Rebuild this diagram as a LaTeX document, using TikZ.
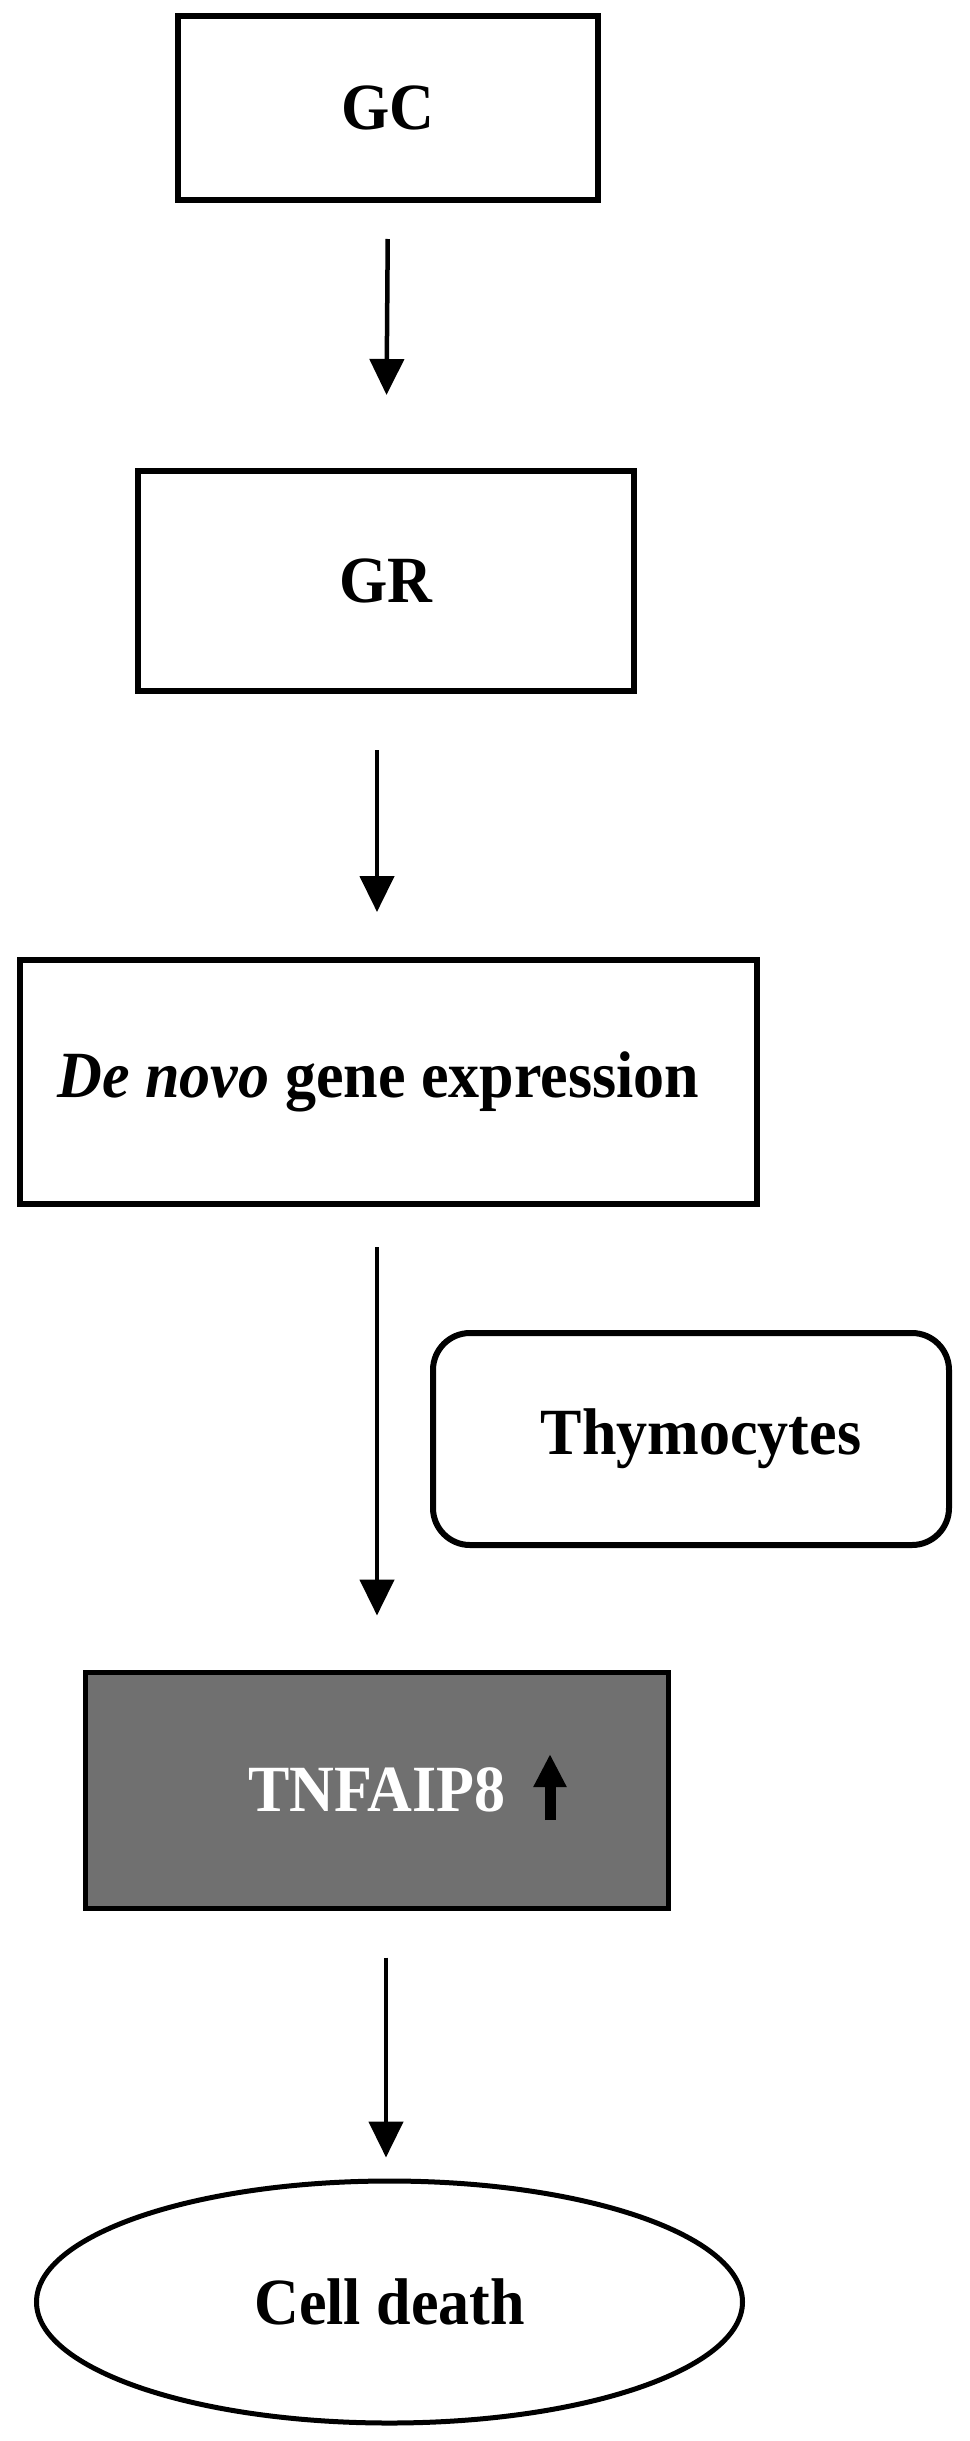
\documentclass[tikz,border=0pt]{standalone}
\usepackage{fontspec}
\setmainfont{Liberation Serif}[FakeStretch=0.94]
\usetikzlibrary{arrows.meta,shapes.geometric}
\begin{document}
\begin{tikzpicture}[x=1pt,y=-1pt,
  box/.style={draw=black,line width=6pt,inner sep=0pt,font=\fontsize{66}{72}\selectfont\bfseries},
  arr/.style={draw=black,line width=4.5pt,-{Triangle[width=34pt,length=36pt]}}]
\useasboundingbox (0,0) rectangle (969,2441);
\node[box,minimum width=420pt,minimum height=184pt] (gc) at (388,108) {GC};
\node[box,minimum width=496pt,minimum height=220pt] (gr) at (386,581) {GR};
\node[box,minimum width=737pt,minimum height=244pt] (dn) at (388.5,1082) {\hspace*{-20pt}\textit{De novo} gene expression};
\node[box,rounded corners=37pt,minimum width=516pt,minimum height=212pt] (th) at (691,1439) {\hspace*{20pt}Thymocytes};
\node[box,line width=5pt,fill=black!56,text=white,minimum width=583pt,minimum height=236pt] (tn) at (377,1790) {TNFAIP8};
\node[box,ellipse,line width=5pt,minimum width=706pt,minimum height=242pt] (cd) at (389.5,2302) {Cell death};
\draw[line width=11pt,-{Triangle[width=31pt,length=33pt]}] (550,1820) -- (550,1754);
\draw[arr,shorten <=36pt,shorten >=73pt] (gc.south) -- (gr.north);
\draw[arr,shorten <=56pt,shorten >=45pt] ([xshift=-9pt]gr.south) -- ([xshift=-11.5pt]dn.north);
\draw[arr,shorten <=40pt,shorten >=54pt] ([xshift=-11.5pt]dn.south) -- (tn.north);
\draw[arr,shorten <=47pt,shorten >=21pt] ([xshift=9pt]tn.south) -- ([xshift=-3.5pt]cd.north);
\end{tikzpicture}
\end{document}
